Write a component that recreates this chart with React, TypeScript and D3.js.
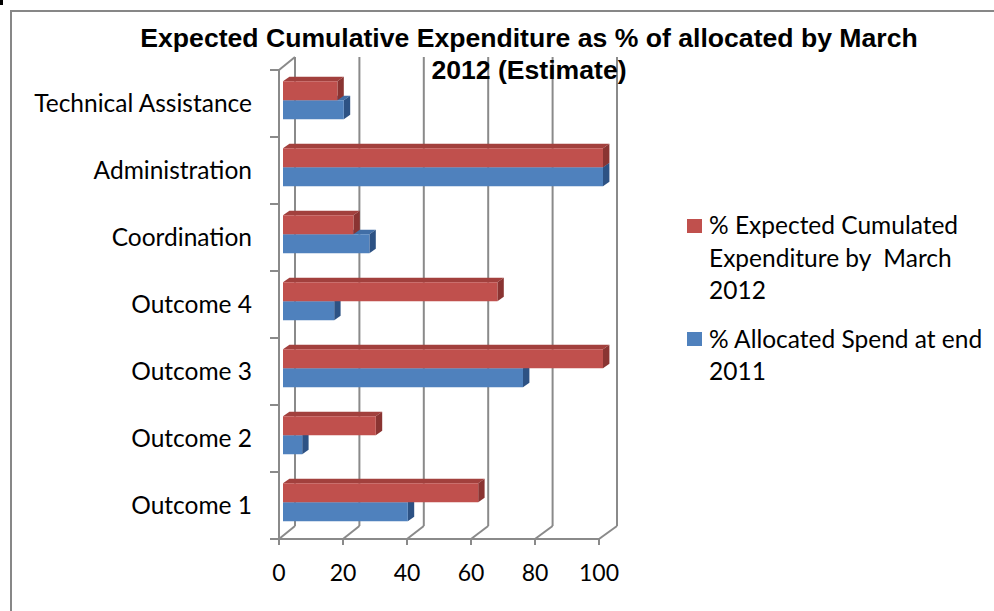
import React from "react";
import * as d3 from "d3";

const categories = [
  "Outcome 1",
  "Outcome 2",
  "Outcome 3",
  "Outcome 4",
  "Coordination",
  "Administration",
  "Technical Assistance",
];
const expected2012 = [61, 29, 100, 67, 22, 100, 17];
const allocated2011 = [39, 6, 75, 16, 27, 100, 19];
const xTicks = [0, 20, 40, 60, 80, 100];
const titleLines = [
  "Expected Cumulative Expenditure as % of allocated by March",
  "2012 (Estimate)",
];
const legendRed = ["% Expected Cumulated", "Expenditure by  March", "2012"];
const legendBlue = ["% Allocated Spend at end", "2011"];

const W = 994;
const H = 611;
const FRONT_TOP = 70;
const FRONT_BOTTOM = 539;
const X0 = 279;
const X1 = 599;
const DY = -13;
const dxAt = (v: number) => 16 + (2 * v) / 100;

const RED = "#C0504D";
const RED_TOP = "#A2403D";
const RED_SIDE = "#8A3432";
const BLUE = "#4F81BD";
const BLUE_TOP = "#416EA6";
const BLUE_SIDE = "#2D5284";
const GRID = "#8A8A8A";
const LABEL_FONT = "Lato, 'Open Sans', sans-serif";

export default function App() {
  const x = d3.scaleLinear().domain([0, 100]).range([X0, X1]);
  const y = d3
    .scaleBand<string>()
    .domain([...categories].reverse())
    .range([FRONT_TOP, FRONT_BOTTOM])
    .paddingInner(0)
    .paddingOuter(0);
  const bw = y.bandwidth();

  const barOff = { x: 4, y: -3.25 };
  const barDepth = { x: 6.4, y: -4.5 };
  const barH = 19;

  const bar = (
    v: number,
    top: number,
    front: string,
    topC: string,
    side: string,
    key: string
  ) => {
    const xl = x(0) + barOff.x;
    const xr = x(v) + barOff.x;
    const yt = top;
    const yb = top + barH;
    const dx = barDepth.x;
    const dy = barDepth.y;
    return (
      <g key={key}>
        <polygon
          points={`${xl},${yt} ${xr},${yt} ${xr + dx},${yt + dy} ${xl + dx},${yt + dy}`}
          fill={topC}
        />
        <polygon
          points={`${xr},${yt} ${xr + dx},${yt + dy} ${xr + dx},${yb + dy} ${xr},${yb}`}
          fill={side}
        />
        <rect x={xl} y={yt} width={xr - xl} height={barH} fill={front} />
      </g>
    );
  };

  const boundaries = [...y.domain().map((c) => y(c) as number), FRONT_BOTTOM];

  return (
    <svg
      width={W}
      height={H}
      style={{ position: "absolute", left: 0, top: 0, background: "#fff" }}
    >
      <rect x={0} y={0} width={W} height={H} fill="#fff" />
      <rect x={0} y={0} width={3} height={5} fill="#000" />
      {/* frame */}
      <path d={`M11,${H} L11,11 L${W},11`} fill="none" stroke="#878787" strokeWidth={2} />

      {/* back wall gridlines */}
      {xTicks.map((t) => (
        <line
          key={"g" + t}
          x1={x(t) + dxAt(t)}
          x2={x(t) + dxAt(t)}
          y1={FRONT_TOP + DY}
          y2={FRONT_BOTTOM + DY}
          stroke={GRID}
          strokeWidth={2}
        />
      ))}
      {/* floor diagonals */}
      {xTicks.map((t) => (
        <line
          key={"f" + t}
          x1={x(t)}
          y1={FRONT_BOTTOM}
          x2={x(t) + dxAt(t)}
          y2={FRONT_BOTTOM + DY}
          stroke={GRID}
          strokeWidth={2}
        />
      ))}
      {/* floor front edge */}
      <line x1={x(0)} x2={x(100)} y1={FRONT_BOTTOM} y2={FRONT_BOTTOM} stroke={GRID} strokeWidth={2} />
      {/* left wall */}
      <line x1={x(0)} x2={x(0)} y1={FRONT_TOP} y2={FRONT_BOTTOM} stroke={GRID} strokeWidth={2} />
      <line
        x1={x(0)}
        y1={FRONT_TOP}
        x2={x(0) + dxAt(0)}
        y2={FRONT_TOP + DY}
        stroke={GRID}
        strokeWidth={2}
      />
      {/* category ticks */}
      {boundaries.map((b, i) => (
        <line key={"ct" + i} x1={x(0) - 9} x2={x(0)} y1={b} y2={b} stroke={GRID} strokeWidth={2} />
      ))}
      {/* value ticks */}
      {xTicks.map((t) => (
        <line
          key={"vt" + t}
          x1={x(t)}
          x2={x(t)}
          y1={FRONT_BOTTOM}
          y2={FRONT_BOTTOM + 6}
          stroke={GRID}
          strokeWidth={2}
        />
      ))}

      {/* bars */}
      {categories.map((c, i) => {
        const cy = (y(c) as number) + bw / 2 + barOff.y;
        return (
          <g key={c}>
            {bar(allocated2011[i], cy, BLUE, BLUE_TOP, BLUE_SIDE, "b")}
            {bar(expected2012[i], cy - barH, RED, RED_TOP, RED_SIDE, "r")}
          </g>
        );
      })}

      {/* category labels */}
      {categories.map((c) => (
        <text
          key={"l" + c}
          x={252}
          y={(y(c) as number) + bw / 2}
          dy="0.36em"
          textAnchor="end"
          fontFamily={LABEL_FONT}
          fontSize={24.5}
          fill="#000"
        >
          {c}
        </text>
      ))}
      {/* x tick labels */}
      {xTicks.map((t) => (
        <text
          key={"xl" + t}
          x={x(t)}
          y={581}
          textAnchor="middle"
          fontFamily={LABEL_FONT}
          fontSize={23}
          fill="#000"
        >
          {t}
        </text>
      ))}

      {/* title */}
      {titleLines.map((l, i) => (
        <text
          key={"t" + i}
          x={529}
          y={47 + i * 32}
          textAnchor="middle"
          fontFamily="'Liberation Sans', Arial, sans-serif"
          fontWeight="bold"
          fontSize={26.6}
          fill="#000"
        >
          {l}
        </text>
      ))}

      {/* legend */}
      <rect x={687} y={219} width={15} height={14} fill={RED} />
      {legendRed.map((l, i) => (
        <text
          key={"lr" + i}
          x={709}
          y={234 + i * 32.5}
          fontFamily={LABEL_FONT}
          fontSize={24.5}
          fill="#000"
          style={{ whiteSpace: "pre" }}
        >
          {l}
        </text>
      ))}
      <rect x={687} y={332} width={15} height={14} fill={BLUE} />
      {legendBlue.map((l, i) => (
        <text
          key={"lb" + i}
          x={709}
          y={347.5 + i * 32.5}
          fontFamily={LABEL_FONT}
          fontSize={24.5}
          fill="#000"
        >
          {l}
        </text>
      ))}
    </svg>
  );
}
